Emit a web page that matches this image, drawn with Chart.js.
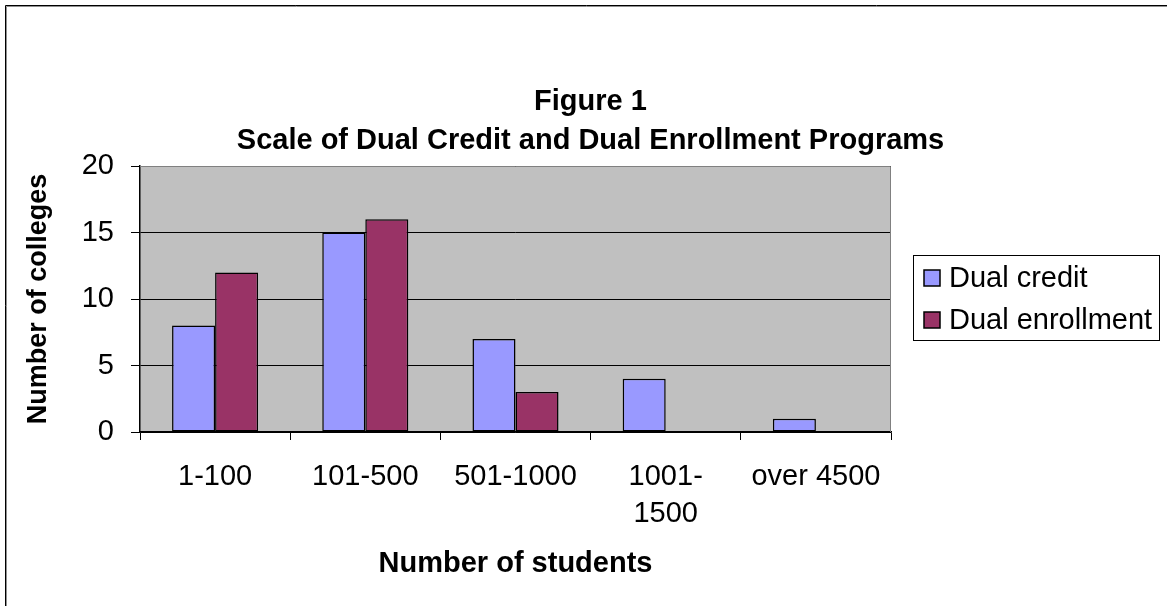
<!DOCTYPE html>
<html lang="en">
<head>
    <meta charset="UTF-8">
    <title>Figure 1 - Scale of Dual Credit and Dual Enrollment Programs</title>
    <script src="https://cdn.jsdelivr.net/npm/chart.js"></script>
    <style>
        body {
            margin: 0;
            background: #fff;
        }
        canvas {
            display: block;
        }
    </style>
</head>
<body>
    <canvas id="scale-chart" width="1167" height="606"></canvas>

    <script>
        // number of students per program
        const categories = ['1-100', '101-500', '501-1000', ['1001-', '1500'], 'over 4500'];
        const seriesNames = ['Dual credit', 'Dual enrollment'];
        const dualCredit = [8, 15, 7, 4, 1];
        const dualEnrollment = [12, 16, 3, 0, 0];
        const yMin = 0;
        const yMax = 20;
        const yStep = 5;

        const FONT = '"Liberation Sans", Arial, Helvetica, sans-serif';
        Chart.defaults.color = '#000';
        Chart.defaults.font.family = FONT;

        // grey plot area, frame lines and the boxed legend on the right
        const excelLook = {
            id: 'excelLook',
            beforeDraw(chart) {
                const { ctx, chartArea: a } = chart;
                ctx.save();
                ctx.fillStyle = '#fff';
                ctx.fillRect(0, 0, chart.width, chart.height);
                ctx.fillStyle = '#c0c0c0';
                ctx.fillRect(a.left, a.top, a.right - a.left, a.bottom - a.top);
                ctx.restore();
            },
            beforeDatasetsDraw(chart) {
                const { ctx, chartArea: a } = chart;
                ctx.save();
                ctx.strokeStyle = '#808080';
                ctx.lineWidth = 1;
                ctx.beginPath();
                ctx.moveTo(a.left, a.top + 0.5);
                ctx.lineTo(a.right - 0.5, a.top + 0.5);
                ctx.lineTo(a.right - 0.5, a.bottom);
                ctx.stroke();
                ctx.restore();
            },
            afterDraw(chart) {
                const { ctx } = chart;
                ctx.save();
                // outer frame
                ctx.lineWidth = 1;
                ctx.strokeStyle = '#000';
                ctx.beginPath();
                ctx.moveTo(5.5, chart.height);
                ctx.lineTo(5.5, 5.5);
                ctx.lineTo(chart.width, 5.5);
                ctx.stroke();
                ctx.strokeStyle = '#909090';
                ctx.beginPath();
                ctx.moveTo(6.5, chart.height);
                ctx.lineTo(6.5, 6.5);
                ctx.lineTo(chart.width, 6.5);
                ctx.stroke();

                // legend
                const box = { x: 913.5, y: 255.5, w: 246, h: 85 };
                ctx.strokeStyle = '#000';
                ctx.strokeRect(box.x, box.y, box.w, box.h);
                ctx.font = '29px ' + FONT;
                ctx.textBaseline = 'middle';
                chart.data.datasets.forEach((ds, i) => {
                    const cy = 278 + i * 42;
                    ctx.fillStyle = ds.backgroundColor;
                    ctx.fillRect(924, cy - 8, 16, 16);
                    ctx.lineWidth = 1.5;
                    ctx.strokeStyle = '#000';
                    ctx.strokeRect(924, cy - 8, 16, 16);
                    ctx.fillStyle = '#000';
                    ctx.fillText(ds.label, 949, cy + 1);
                });
                ctx.restore();
            }
        };

        const ctx = document.getElementById('scale-chart').getContext('2d');

        new Chart(ctx, {
            type: 'bar',
            data: {
                labels: categories,
                datasets: [{
                    label: seriesNames[0],
                    data: dualCredit,
                    backgroundColor: '#9999ff',
                    borderColor: '#000',
                    borderWidth: 1.5,
                    borderSkipped: false
                }, {
                    label: seriesNames[1],
                    data: dualEnrollment,
                    backgroundColor: '#993366',
                    borderColor: '#000',
                    borderWidth: 1.5,
                    borderSkipped: false
                }]
            },
            options: {
                responsive: false,
                animation: false,
                categoryPercentage: 0.573,
                barPercentage: 1,
                layout: { padding: { left: 14, right: 0, top: 0, bottom: 0 } },
                plugins: {
                    legend: { display: false },
                    tooltip: { enabled: false },
                    title: {
                        display: true,
                        text: ['Figure 1', 'Scale of Dual Credit and Dual Enrollment Programs'],
                        font: { size: 29, weight: 'bold', lineHeight: 1.345 },
                        color: '#000',
                        padding: { top: 82, bottom: 6 }
                    }
                },
                scales: {
                    x: {
                        grid: {
                            display: true,
                            drawOnChartArea: false,
                            tickLength: 8,
                            color: '#000'
                        },
                        border: { display: true, color: '#000', width: 1.5 },
                        ticks: {
                            font: { size: 29, lineHeight: 1.28 },
                            padding: 18,
                            maxRotation: 0
                        },
                        title: {
                            display: true,
                            text: 'Number of students',
                            font: { size: 29, weight: 'bold' },
                            padding: { top: 0, bottom: 25 }
                        },
                        afterFit: s => { s.height = 174; }
                    },
                    y: {
                        min: yMin,
                        max: yMax,
                        ticks: {
                            stepSize: yStep,
                            font: { size: 29 },
                            padding: 17
                        },
                        grid: {
                            color: '#000',
                            tickLength: 9
                        },
                        border: { display: true, color: '#000', width: 1.5 },
                        title: {
                            display: true,
                            text: 'Number of colleges',
                            font: { size: 27, weight: 'bold' },
                            padding: { top: 8, bottom: 0 }
                        },
                        afterFit: s => { s.width = 126; }
                    },
                    // empty axis that keeps room for the legend
                    legendSpace: {
                        type: 'linear',
                        position: 'right',
                        display: true,
                        grid: { display: false },
                        border: { display: false },
                        ticks: { display: false },
                        afterFit: s => { s.width = 276; }
                    }
                }
            },
            plugins: [excelLook]
        });
    </script>
</body>
</html>
